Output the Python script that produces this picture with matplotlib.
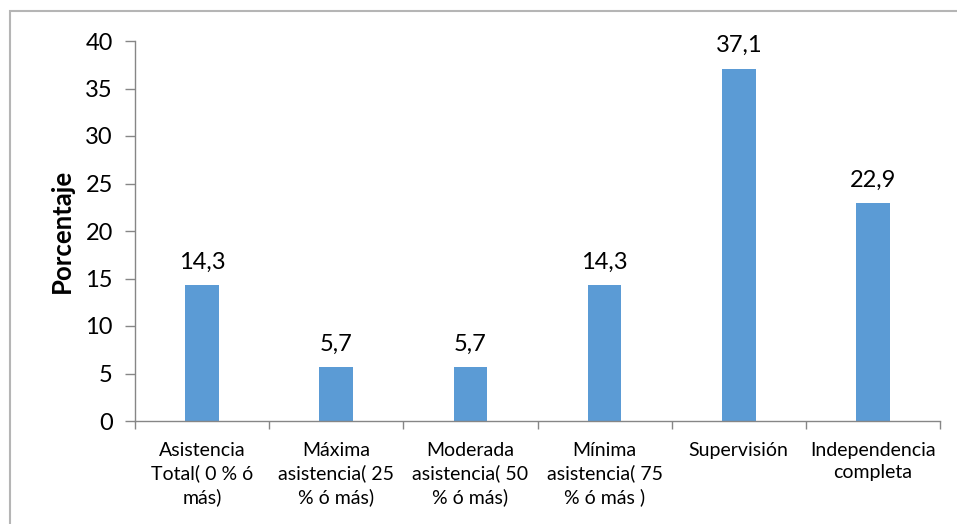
import matplotlib
matplotlib.use("Agg")
import matplotlib.pyplot as plt
from matplotlib.patches import Rectangle
import numpy as np

plt.rcParams['font.family'] = ['Lato', 'DejaVu Sans']

categories = [
    "Asistencia\nTotal( 0 % ó\nmás)",
    "Máxima\nasistencia( 25\n% ó más)",
    "Moderada\nasistencia( 50\n% ó más)",
    "Mínima\nasistencia( 75\n% ó más )",
    "Supervisión",
    "Independencia\ncompleta",
]
values = [14.3, 5.7, 5.7, 14.3, 37.1, 22.9]
value_labels = ["14,3", "5,7", "5,7", "14,3", "37,1", "22,9"]
y_ticks = [0, 5, 10, 15, 20, 25, 30, 35, 40]

W, H = 957, 524
fig = plt.figure(figsize=(W / 100, H / 100), dpi=100)
ax = fig.add_axes([135 / W, 1 - 421 / H, (940 - 135) / W, (421 - 41) / H])

x = np.arange(len(categories))
ax.bar(x, values, width=0.25, color="#5B9BD5", zorder=2)

for xi, v, lab in zip(x, values, value_labels):
    ax.annotate(lab, (xi, v), xytext=(0, 9), textcoords="offset points",
                ha="center", va="bottom", fontsize=17, color="#000000")

ax.set_xlim(-0.5, len(categories) - 0.5)
ax.set_ylim(0, 40)
ax.set_yticks(y_ticks)
ax.set_yticklabels([str(t) for t in y_ticks], fontsize=17)

# boundary ticks between categories, labels centred under each bar
ax.set_xticks(np.arange(-0.5, len(categories), 1.0))
ax.set_xticklabels([])
ax.set_xticks(x, minor=True)
ax.set_xticklabels(categories, minor=True, fontsize=14, linespacing=1.37)
ax.tick_params(axis="x", which="major", length=6, color="#868686", width=1)
ax.tick_params(axis="x", which="minor", length=0, pad=15)
ax.tick_params(axis="y", length=7, color="#868686", width=1, pad=9)

for side in ("top", "right"):
    ax.spines[side].set_visible(False)
for side in ("left", "bottom"):
    ax.spines[side].set_color("#868686")
    ax.spines[side].set_linewidth(1)

ax.set_ylabel("Porcentaje", fontsize=18.5, fontweight="bold", labelpad=8)

fig.add_artist(Rectangle((10 / W, -0.1), 2, 1 - 11 / H + 0.1,
                         transform=fig.transFigure, fill=False,
                         ec="#B5B5B5", lw=1.5, clip_on=False))

fig.savefig("out.png", dpi=100)
